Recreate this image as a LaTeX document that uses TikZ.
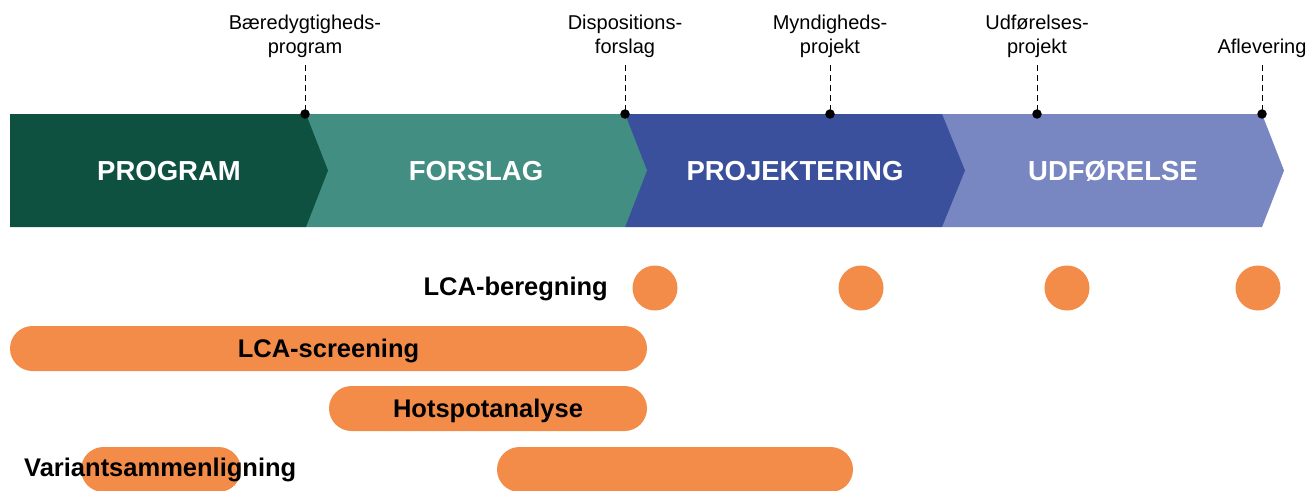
\documentclass[tikz,border=0pt]{standalone}
\usepackage{fontspec}
\setmainfont{Liberation Sans}
\definecolor{cprog}{HTML}{0E5141}
\definecolor{cforslag}{HTML}{428E83}
\definecolor{cproj}{HTML}{3B509D}
\definecolor{cudf}{HTML}{7886C2}
\definecolor{corange}{HTML}{F28C48}
\begin{document}
\begin{tikzpicture}[x=1pt,y=-1pt,
  phase/.style={font=\fontsize{27.5}{30}\selectfont\bfseries, text=white, inner sep=0pt, text height=19.7pt, text depth=0pt},
  mlabel/.style={font=\fontsize{20}{24}\selectfont, align=center, anchor=south, inner sep=0pt},
  mdot/.style={circle, fill=black, inner sep=0pt, minimum size=9.5pt},
  guide/.style={dash pattern=on 6pt off 4pt, line width=1pt},
  blabel/.style={font=\fontsize{25.5}{28}\selectfont\bfseries, inner sep=0pt, text height=18.3pt, text depth=0pt},
  pill/.style={fill=corange, rounded corners=22.5pt, minimum height=45pt, inner sep=0pt, text height=18.3pt, text depth=0pt, font=\fontsize{25.5}{28}\selectfont\bfseries},
  odot/.style={circle, fill=corange, minimum size=45pt, inner sep=0pt}]
\useasboundingbox (0,0) rectangle (1308,490);
% phases (drawn right to left so each tip overlaps the next)
\fill[cudf]     (942,114) -- (1262,114) -- (1284,170.5) -- (1262,227) -- (942,227) -- cycle;
\fill[cproj]    (625,114) -- (942,114) -- (965,170.5) -- (942,227) -- (625,227) -- cycle;
\fill[cforslag] (306,114) -- (625,114) -- (647,170.5) -- (625,227) -- (306,227) -- cycle;
\fill[cprog]    (10,114) -- (306,114) -- (328,170.5) -- (306,227) -- (10,227) -- cycle;
\node[phase] (pprog) at (169,170.5) {PROGRAM};
\node[phase] (pforslag) at (476,170.5) {FORSLAG};
\node[phase] (pproj) at (795,170.5) {PROJEKTERING};
\node[phase] (pudf) at (1113,170.5) {UDFØRELSE};
% milestones
\foreach \n/\x/\t in {m1/305/{Bæredygtigheds-\\program}, m2/625/{Dispositions-\\forslag}, m3/830/{Myndigheds-\\projekt}, m4/1037/{Udførelses-\\projekt}, m5/1262/{Aflevering}}{
  \node[mlabel] (\n l) at (\x,57.5) {\t};
  \coordinate (\n t) at (\x,65);
  \node[mdot] (\n d) at (\x,114) {};
  \draw[guide] (\n t) -- (\n d.center);
}
% LCA-beregning
\node[blabel, anchor=east] (lcab) at (608,286) {LCA-beregning};
\node[odot] (c1) at (655,288) {};
\node[odot] (c2) at (861,288) {};
\node[odot] (c3) at (1067,288) {};
\node[odot] (c4) at (1258,288) {};
% bars
\node[pill, minimum width=637pt] (screen) at (328.5,348.5) {LCA-screening};
\node[pill, minimum width=318pt] (hot) at (488,408.5) {Hotspotanalyse};
\begin{scope}
\clip (0,0) rectangle (1308,490);
\node[pill, minimum width=160pt] (var1) at (161,469.5) {};
\node[pill, minimum width=356pt] (var2) at (675,469.5) {};
\end{scope}
\node[blabel, anchor=west] (varl) at (24,467) {Variantsammenligning};
\end{tikzpicture}
\end{document}
